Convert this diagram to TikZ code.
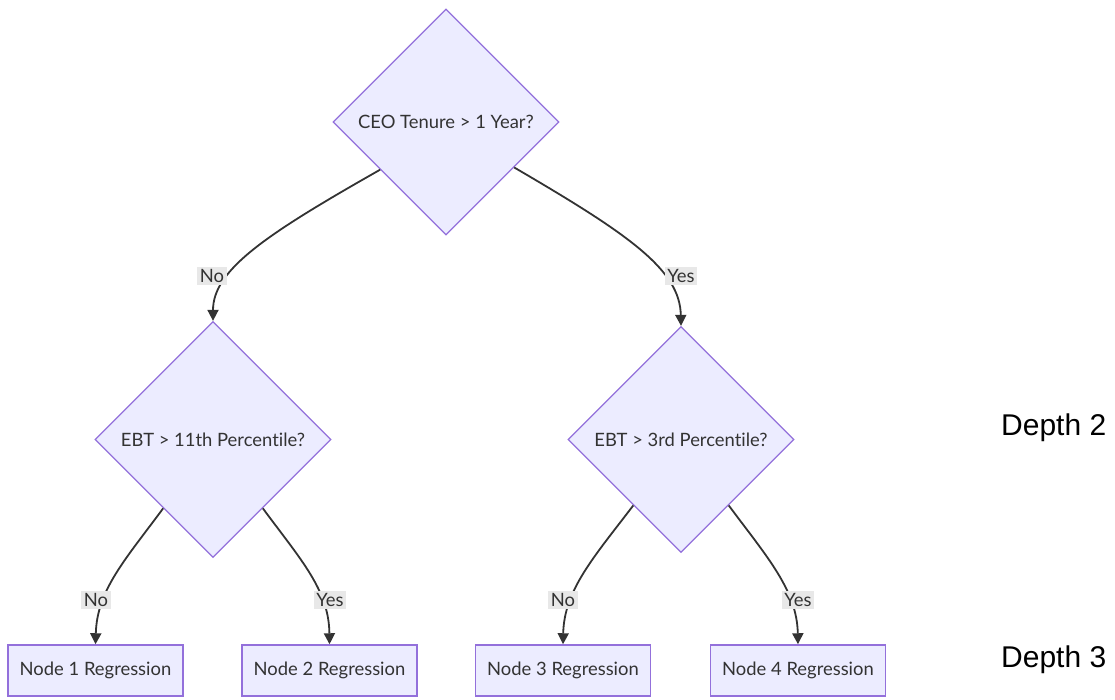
\documentclass[tikz,border=0pt]{standalone}
\usepackage{fontspec}
\setmainfont{Lato}[Ligatures={NoCommon,NoRare,NoDiscretionary}]
\newfontfamily\depthfont{Liberation Sans}
\usetikzlibrary{shapes.geometric,arrows.meta,calc}
\definecolor{mmfill}{HTML}{ECECFF}
\definecolor{mmline}{HTML}{9370DB}
\definecolor{mmedge}{HTML}{333333}
\definecolor{mmlabel}{HTML}{E8E8E8}
\tikzset{
  decision/.style={diamond,aspect=1,draw=mmline,fill=mmfill,line width=1.3pt,
    inner sep=0pt,minimum width=#1,minimum height=#1,text=mmedge,
    font=\fontsize{18.4}{21}\selectfont},
  leaf/.style={rectangle,draw=mmline,fill=mmfill,line width=1.5pt,
    minimum width=175pt,minimum height=51pt,text=mmedge,
    font=\fontsize{18.4}{21}\selectfont},
  cond/.style={fill=mmlabel,inner sep=2.5pt,text=mmedge,
    font=\fontsize{18.4}{21}\selectfont},
  depth/.style={anchor=base west,inner sep=0pt,font=\depthfont\fontsize{30}{35}\selectfont},
  flow/.style={draw=mmedge,line width=1.8pt,-{Triangle[length=11pt,width=11pt]}}
}
\begin{document}
\begin{tikzpicture}[x=1pt,y=-1pt]
  \useasboundingbox (0,0) rectangle (1115,699);

  % decisions
  \node [decision=226pt] (ceo) at (446,122) {CEO Tenure > 1 Year?};
  \node [decision=236pt] (ebt11) at (213,439.5) {EBT > 11th Percentile?};
  \node [decision=226pt] (ebt3) at (681,439.5) {EBT > 3rd Percentile?};

  % leaves
  \node [leaf] (n1) at (95.5,670.5) {Node 1 Regression};
  \node [leaf] (n2) at (329.5,670.5) {Node 2 Regression};
  \node [leaf] (n3) at (563,670.5) {Node 3 Regression};
  \node [leaf] (n4) at (798,670.5) {Node 4 Regression};

  \node [depth] (d2) at (1001,435) {Depth 2};
  \node [depth] (d3) at (1001,667) {Depth 3};

  % edges
  \draw [flow] ($(ceo.west)!.42!(ceo.south)$) .. controls (265,235) and (213,270) .. (ebt11.north);
  \draw [flow] ($(ceo.east)!.40!(ceo.south)$) .. controls (630,235) and (680,270) .. (ebt3.north);
  \draw [flow] ($(ebt11.west)!.58!(ebt11.south)$) .. controls (125,560) and (97,590) .. (n1.north);
  \draw [flow] ($(ebt11.east)!.58!(ebt11.south)$) .. controls (301,560) and (329,590) .. (n2.north);
  \draw [flow] ($(ebt3.west)!.58!(ebt3.south)$) .. controls (594,557) and (564,590) .. (n3.north);
  \draw [flow] ($(ebt3.east)!.58!(ebt3.south)$) .. controls (767,557) and (797,590) .. (n4.north);

  % edge labels
  \node [cond] (no0) at (212,276) {No};
  \node [cond] (yes0) at (681,276) {Yes};
  \node [cond] (no1) at (96,600) {No};
  \node [cond] (yes1) at (330,600) {Yes};
  \node [cond] (no2) at (563,600) {No};
  \node [cond] (yes2) at (798,600) {Yes};
\end{tikzpicture}
\end{document}
